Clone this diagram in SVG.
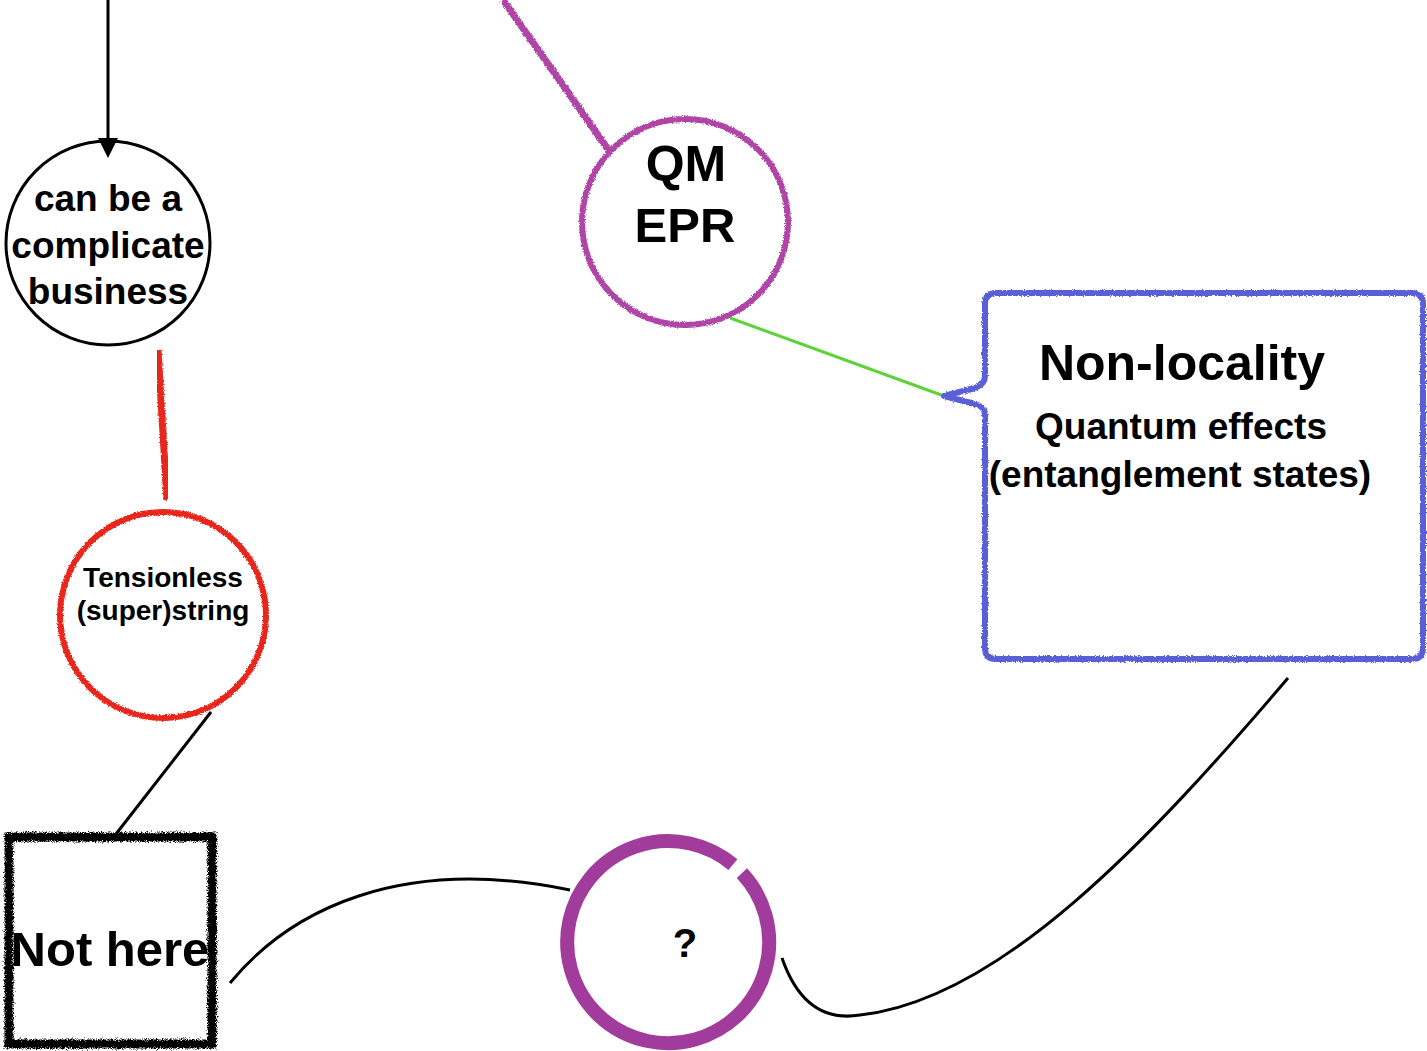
<svg xmlns="http://www.w3.org/2000/svg" width="1427" height="1051" viewBox="0 0 1427 1051">
<style>
text{font-family:"Liberation Sans",Arial,Helvetica,sans-serif;font-weight:bold;fill:#000;text-anchor:middle}
.conn{fill:none;stroke:#000;stroke-width:3}
</style>
<defs>
<filter id="rough" x="-10%" y="-10%" width="120%" height="120%">
<feTurbulence type="fractalNoise" baseFrequency="0.9" numOctaves="2" seed="3" result="n"/>
<feDisplacementMap in="SourceGraphic" in2="n" scale="3.5" xChannelSelector="R" yChannelSelector="G"/>
</filter>
<filter id="rough2" x="-10%" y="-10%" width="120%" height="120%">
<feTurbulence type="fractalNoise" baseFrequency="1.2" numOctaves="2" seed="7" result="n"/>
<feDisplacementMap in="SourceGraphic" in2="n" scale="7" xChannelSelector="R" yChannelSelector="G"/>
</filter>
</defs>
<g id="connectors">
<line x1="108" y1="0" x2="108" y2="140" stroke="#000" stroke-width="3"/>
<path d="M98,138 L118,138 L108,158 z" fill="#000"/>
<path d="M503,0 L610,152" fill="none" stroke="#b044a8" stroke-width="7" filter="url(#rough)"/>
<path d="M158,350 L167,500" fill="none" stroke="#e8261a" stroke-width="7" filter="url(#rough)"/>
<line x1="211" y1="712" x2="116" y2="834" class="conn"/>
<line x1="730" y1="318" x2="944" y2="396" stroke="#5ed23a" stroke-width="3"/>
<path class="conn" d="M230,983 C290,910 400,855 570,890"/>
<path class="conn" d="M782,958 C800,1010 830,1020 860,1015 C1000,1000 1150,840 1288,678"/>
</g>
<g id="node-complicate">
<circle cx="108" cy="243" r="102" fill="none" stroke="#000" stroke-width="3"/>
<text x="108" y="211" font-size="37">can be a</text>
<text x="108" y="258" font-size="37">complicate</text>
<text x="108" y="304" font-size="37">business</text>
</g>
<g id="node-tensionless">
<circle cx="163" cy="615" r="103" fill="none" stroke="#e8261a" stroke-width="6" filter="url(#rough)"/>
<text x="163" y="587" font-size="28">Tensionless</text>
<text x="163" y="620" font-size="28">(super)string</text>
</g>
<g id="node-nothere">
<rect x="9" y="837" width="203" height="207" fill="none" stroke="#000" stroke-width="9" filter="url(#rough2)"/>
<text x="110" y="966" font-size="49">Not here</text>
</g>
<g id="node-question">
<path d="M741.9,873.1 A101,101 0 1 1 732.9,864.6" fill="none" stroke="#a23c9c" stroke-width="14"/>
<text x="685" y="957" font-size="40">?</text>
</g>
<g id="node-qm">
<circle cx="685" cy="222" r="103" fill="none" stroke="#b044a8" stroke-width="6" filter="url(#rough)"/>
<text x="686" y="181" font-size="50">QM</text>
<text x="685" y="242" font-size="49">EPR</text>
</g>
<g id="node-nonlocality">
<path d="M996,293 L1412,293 Q1423,293 1423,304 L1423,648 Q1423,659 1412,659 L996,659 Q985,659 985,648 L985,414 Q985,407 975,404 L944,396 L975,388 Q985,384 985,376 L985,304 Q985,293 996,293 z" fill="none" stroke="#5a5ed8" stroke-width="6" stroke-linejoin="round" filter="url(#rough)"/>
<text x="1182" y="380" font-size="50">Non-locality</text>
<text x="1181" y="439" font-size="37">Quantum effects</text>
<text x="1180" y="487" font-size="37">(entanglement states)</text>
</g>
</svg>
